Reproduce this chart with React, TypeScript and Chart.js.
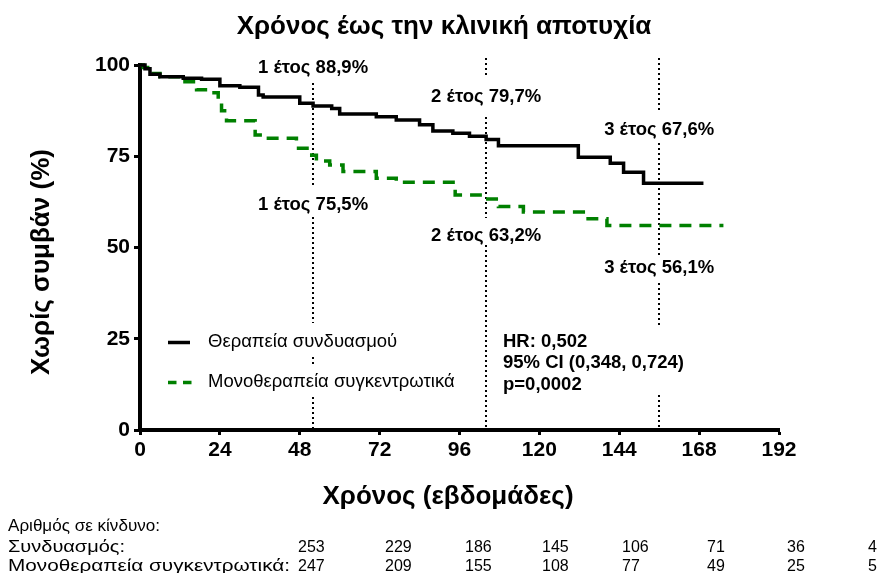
import React, { useEffect, useRef } from 'react';
import { Chart, registerables } from 'chart.js';

Chart.register(...registerables);

// ---------------- data ----------------
const weeksCombo = [0, 1.5, 3, 6, 13, 18.5, 24, 30, 35.6, 37, 48, 52, 57.6, 60, 71, 77, 84, 88, 94, 99, 104, 107.7, 131.7, 141.3, 145.3, 151.3, 169.3];
const survivalCombo = [100, 99, 97.5, 96.8, 96.4, 96.1, 94.3, 93.9, 91.8, 91.2, 89.5, 88.8, 88.1, 86.6, 85.8, 84.9, 83.6, 81.9, 81.3, 80.5, 79.6, 77.9, 74.7, 73.1, 70.6, 67.6, 67.6];

const weeksMono = [0, 1, 4, 6, 12, 17, 21.5, 23.5, 24.5, 26, 34.6, 37, 47, 51.6, 53, 57, 61, 71, 77, 94.7, 102.2, 107.7, 115.2, 133.2, 140.3, 175.3];
const survivalMono = [100, 99.3, 97.7, 96.8, 95.4, 93.2, 92.4, 89.5, 87.5, 84.7, 80.8, 79.9, 77.2, 75.3, 73.7, 72.6, 70.8, 69.0, 67.9, 64.4, 63.3, 61.2, 59.7, 57.9, 56.0, 56.0];

const seriesNames = ['Θεραπεία συνδυασμού', 'Μονοθεραπεία συγκεντρωτικά'];
const chartTitle = 'Χρόνος έως την κλινική αποτυχία';
const xAxisTitle = 'Χρόνος (εβδομάδες)';
const yAxisTitle = 'Χωρίς συμβάν (%)';

const landmarkWeeks = [52, 104, 156];
const landmarkLabelsCombo = ['1 έτος 88,9%', '2 έτος 79,7%', '3 έτος 67,6%'];
const landmarkLabelsMono = ['1 έτος 75,5%', '2 έτος 63,2%', '3 έτος 56,1%'];

const statsLines = ['HR: 0,502', '95% CI (0,348, 0,724)', 'p=0,0002'];

const riskTitle = 'Αριθμός σε κίνδυνο:';
const riskLabels = ['Συνδυασμός:', 'Μονοθεραπεία συγκεντρωτικά:'];
const riskCombo = [253, 229, 186, 145, 106, 71, 36, 4];
const riskMono = [247, 209, 155, 108, 77, 49, 25, 5];

// ---------------- layout / style ----------------
const FONT = '"Liberation Sans", Arial, Helvetica, sans-serif';
const GREEN = '#008000';
const W = 880;
const H = 573;

const LANDMARK_SEGMENTS = [
  [[83, 188], [217, 323], [357, 367], [397, 430]],
  [[58, 78], [117, 218], [245, 430]],
  [[58, 112], [143, 255], [283, 325], [395, 430]],
];
const LABEL_Y_COMBO = [68, 97, 129.5];
const LABEL_Y_MONO = [205, 236, 268];
const RISK_COL_X = [298, 385, 465, 542, 622, 707, 787, 868];
const RISK_ROW_Y = [530.5, 552, 571];
const RISK_LABEL_WIDTHS = [152, 117, 282];

function fillStretched(ctx: CanvasRenderingContext2D, text: string, x: number, y: number, width: number) {
  const natural = ctx.measureText(text).width;
  const sx = width / natural;
  ctx.save();
  ctx.translate(x, y);
  ctx.scale(sx, 1);
  ctx.fillText(text, 0, 0);
  ctx.restore();
}

const kmPlugin = {
  id: 'kmDecor',
  beforeDatasetsDraw(chart: any) {
    const { ctx, scales } = chart;
    const x = scales.x;
    ctx.save();
    ctx.strokeStyle = '#000';
    ctx.lineWidth = 2;
    ctx.setLineDash([2, 3]);
    landmarkWeeks.forEach((w, i) => {
      const px = Math.round(x.getPixelForValue(w));
      LANDMARK_SEGMENTS[i].forEach(([a, b]) => {
        ctx.beginPath();
        ctx.moveTo(px, a);
        ctx.lineTo(px, b);
        ctx.stroke();
      });
    });
    ctx.restore();
  },
  afterDraw(chart: any) {
    const { ctx, scales } = chart;
    const x = scales.x;
    ctx.save();
    ctx.fillStyle = '#000';

    // title
    ctx.font = `bold 26px ${FONT}`;
    ctx.textAlign = 'center';
    ctx.textBaseline = 'middle';
    ctx.fillText(chartTitle, 444, 27);

    // x title
    ctx.font = `bold 26px ${FONT}`;
    ctx.fillText(xAxisTitle, 448, 497);

    // y title
    ctx.save();
    ctx.translate(42, 262);
    ctx.rotate(-Math.PI / 2);
    ctx.font = `bold 26px ${FONT}`;
    ctx.fillText(yAxisTitle, 0, 0);
    ctx.restore();

    // landmark labels
    ctx.font = `bold 18.5px ${FONT}`;
    landmarkWeeks.forEach((w, i) => {
      const px = x.getPixelForValue(w);
      ctx.fillText(landmarkLabelsCombo[i], px, LABEL_Y_COMBO[i]);
      ctx.fillText(landmarkLabelsMono[i], px, LABEL_Y_MONO[i]);
    });

    // legend
    ctx.lineWidth = 3.5;
    ctx.strokeStyle = '#000';
    ctx.setLineDash([]);
    ctx.beginPath();
    ctx.moveTo(168, 342.5);
    ctx.lineTo(190, 342.5);
    ctx.stroke();
    ctx.strokeStyle = GREEN;
    ctx.setLineDash([8.5, 6.5]);
    ctx.beginPath();
    ctx.moveTo(168, 382.5);
    ctx.lineTo(192, 382.5);
    ctx.stroke();
    ctx.setLineDash([]);
    ctx.font = `18.5px ${FONT}`;
    ctx.textAlign = 'left';
    ctx.fillText(seriesNames[0], 208, 342);
    ctx.fillText(seriesNames[1], 208, 382);

    // stats
    ctx.font = `bold 18.5px ${FONT}`;
    const statY = [341.7, 363.3, 384.5];
    statsLines.forEach((s, i) => ctx.fillText(s, 503, statY[i]));

    // risk table
    ctx.font = `16px ${FONT}`;
    ctx.textBaseline = 'alphabetic';
    fillStretched(ctx, riskTitle, 8, RISK_ROW_Y[0], RISK_LABEL_WIDTHS[0]);
    fillStretched(ctx, riskLabels[0], 8, RISK_ROW_Y[1], RISK_LABEL_WIDTHS[1]);
    fillStretched(ctx, riskLabels[1], 8, RISK_ROW_Y[2], RISK_LABEL_WIDTHS[2]);
    riskCombo.forEach((v, i) => ctx.fillText(String(v), RISK_COL_X[i], RISK_ROW_Y[1]));
    riskMono.forEach((v, i) => ctx.fillText(String(v), RISK_COL_X[i], RISK_ROW_Y[2]));

    ctx.restore();
  },
};

export default function App() {
  const ref = useRef<HTMLCanvasElement>(null);
  useEffect(() => {
    const prevMargin = document.body.style.margin;
    document.body.style.margin = '0';
    const canvas = ref.current!;
    const chart = new Chart(canvas, {
      type: 'line',
      data: {
        datasets: [
          {
            label: seriesNames[0],
            data: weeksCombo.map((w, i) => ({ x: w, y: survivalCombo[i] })),
            borderColor: '#000',
            borderWidth: 3.5,
            stepped: true,
            pointRadius: 0,
            fill: false,
            clip: false as any,
          },
          {
            label: seriesNames[1],
            data: weeksMono.map((w, i) => ({ x: w, y: survivalMono[i] })),
            borderColor: GREEN,
            borderWidth: 3.5,
            borderDash: [12, 8],
            stepped: true,
            pointRadius: 0,
            fill: false,
            clip: false as any,
          },
        ],
      },
      options: {
        responsive: false,
        animation: false,
        layout: { padding: { left: 0, right: 101, top: 65, bottom: 0 } },
        plugins: {
          legend: { display: false },
          tooltip: { enabled: false },
          title: { display: false },
        },
        scales: {
          x: {
            type: 'linear',
            min: 0,
            max: 192,
            afterFit: (s: any) => {
              s.height = 143;
            },
            ticks: {
              stepSize: 24,
              color: '#000',
              padding: 3,
              font: { family: FONT, size: 21, weight: 'bold' },
              maxRotation: 0,
            },
            grid: {
              display: true,
              drawOnChartArea: false,
              drawTicks: true,
              tickLength: 5,
              tickWidth: 3,
              tickColor: '#000',
            },
            border: { display: true, color: '#000', width: 4 },
          },
          y: {
            type: 'linear',
            min: 0,
            max: 100,
            afterFit: (s: any) => {
              s.width = 140;
            },
            ticks: {
              stepSize: 25,
              color: '#000',
              padding: 4,
              font: { family: FONT, size: 21, weight: 'bold' },
            },
            grid: {
              display: true,
              drawOnChartArea: false,
              drawTicks: true,
              tickLength: 6,
              tickWidth: 3,
              tickColor: '#000',
            },
            border: { display: true, color: '#000', width: 4 },
          },
        },
      },
      plugins: [kmPlugin],
    } as any);
    return () => {
      chart.destroy();
      document.body.style.margin = prevMargin;
    };
  }, []);
  return (
    <div style={{ width: W, height: H }}>
      <canvas ref={ref} width={W} height={H} style={{ display: 'block', width: W, height: H }} />
    </div>
  );
}
